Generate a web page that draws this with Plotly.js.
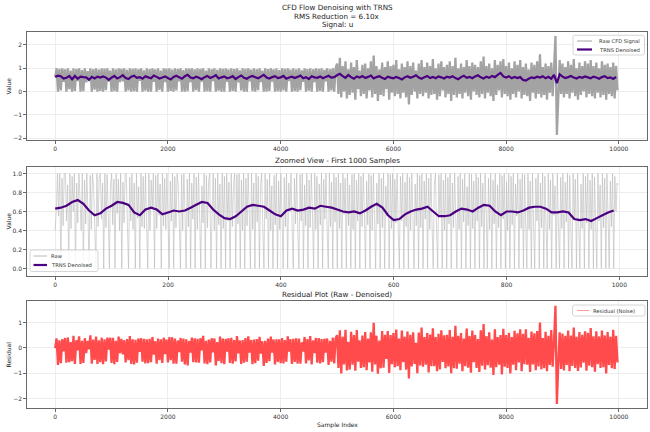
<!DOCTYPE html>
<html>
<head>
<meta charset="utf-8">
<script src="https://cdn.plot.ly/plotly-3.0.1.min.js"></script>
<style>html,body{margin:0;padding:0;background:#fff;}#chart{width:650px;height:432px;}</style>
</head>
<body>
<div id="chart"></div>
<script>
// ---- Data ----
// Raw CFD signal, full run (one reading every 25 samples, 0..9975)
const rawFull = [
0.62,1.0,0.0,0.98,0.05,1.0,0.42,0.95,0.0,1.0,0.1,0.9,0.0,1.0,0.03,0.97,0.45,1.0,0.0,0.92,
0.02,1.0,0.4,0.88,0.45,1.0,0.0,0.96,0.08,1.0,0.0,0.94,0.03,1.0,0.0,0.99,0.06,1.0,0.43,0.9,
0.0,1.0,0.02,0.95,0.0,1.0,0.41,0.97,0.44,1.0,0.0,0.93,0.05,1.0,0.0,0.98,0.02,1.0,0.0,0.96,
0.46,1.0,0.0,0.91,0.04,1.0,0.0,0.97,0.0,1.0,0.42,0.95,0.0,1.0,0.07,0.9,0.0,1.0,0.4,0.98,
0.0,1.0,0.03,0.94,0.0,1.0,0.05,0.97,0.44,1.0,0.0,0.92,0.0,1.0,0.02,0.99,0.41,1.0,0.0,0.95,
0.06,1.0,0.0,0.97,0.43,1.0,0.0,0.9,0.02,1.0,0.0,0.96,0.45,1.0,0.0,0.93,0.04,1.0,0.0,0.98,
0.0,1.0,0.42,0.95,0.0,1.0,0.03,0.97,0.0,1.0,0.4,0.91,0.05,1.0,0.0,0.98,0.0,1.0,0.44,0.94,
0.02,1.0,0.0,0.96,0.06,1.0,0.41,0.9,0.0,1.0,0.0,0.97,0.03,1.0,0.43,0.95,0.0,1.0,0.02,0.92,
0.0,1.0,0.05,0.98,0.0,1.0,0.45,0.94,0.0,1.0,0.02,0.96,0.0,1.0,0.06,0.91,0.42,1.0,0.0,0.97,
0.04,1.0,0.0,0.95,0.4,1.0,0.0,0.98,0.03,1.0,0.0,0.93,0.44,1.0,0.0,0.96,0.05,1.0,0.0,0.99,
1.2,-0.1,1.45,-0.25,1.1,0.0,1.3,-0.3,0.95,-0.15,1.25,-0.05,1.05,-0.35,1.35,0.1,0.9,-0.2,1.15,-0.1,
1.2,-0.3,1.0,0.05,1.3,-0.25,1.55,-0.1,1.1,-0.4,0.95,-0.15,1.25,-0.2,1.05,0.1,1.3,-0.35,1.1,-0.05,
1.15,-0.2,1.35,-0.1,0.95,-0.3,1.2,-0.05,1.05,-0.25,1.3,-0.55,1.1,-0.15,1.25,0.0,0.9,-0.3,1.2,-0.1,
1.35,-0.2,1.05,-0.05,1.25,-0.3,1.1,-0.15,1.4,-0.1,1.0,-0.35,1.2,-0.2,1.3,0.05,1.05,-0.25,1.15,-0.1,
1.3,-0.4,1.1,-0.15,1.45,-0.25,1.0,-0.1,1.2,-0.3,1.05,-0.05,1.35,-0.2,1.1,-0.35,1.25,0.0,1.15,-0.15,
1.05,-0.25,1.3,-0.1,1.5,-0.3,1.1,-0.05,1.2,-0.2,1.0,-0.4,1.35,-0.15,1.15,0.05,1.3,-0.25,1.4,-0.1,
1.1,-0.2,1.25,-0.35,1.0,-0.1,1.3,-0.25,1.15,0.0,1.35,-0.3,1.05,-0.15,1.2,-0.2,0.95,-0.4,1.25,-0.05,
1.15,-0.3,1.3,-0.1,1.6,-0.25,1.05,-0.15,1.2,-0.35,1.1,-0.05,1.25,-0.2,1.0,2.38,-1.86,-0.3,1.35,-0.1,
1.2,-0.25,1.05,-0.1,1.3,-0.3,1.15,-0.05,1.4,-0.2,1.0,-0.35,1.25,-0.15,1.1,0.0,1.3,-0.25,1.2,-0.1,
1.35,-0.2,1.1,-0.3,1.25,-0.05,1.0,-0.25,1.3,-0.15,1.15,-0.35,1.2,-0.1,1.05,-0.2,1.25,-0.3,1.1,0.05
];
const RAW_FULL_STEP = 25;

// TRNS denoised signal, full run (one reading every 50 samples, 0..9950)
const denFull = [
0.63,0.68,0.66,0.56,0.59,0.67,0.53,0.67,0.55,0.64,0.62,0.61,0.51,0.63,0.56,0.64,0.60,0.65,0.60,0.50,
0.60,0.67,0.56,0.62,0.70,0.58,0.54,0.64,0.68,0.59,0.62,0.55,0.66,0.61,0.57,0.69,0.63,0.56,0.60,0.65,
0.58,0.52,0.63,0.68,0.61,0.55,0.66,0.72,0.60,0.57,0.64,0.59,0.53,0.62,0.67,0.58,0.63,0.70,0.56,0.61,
0.65,0.57,0.60,0.66,0.54,0.62,0.69,0.59,0.55,0.63,0.67,0.61,0.57,0.64,0.72,0.60,0.56,0.62,0.66,0.58,
0.61,0.67,0.55,0.60,0.64,0.58,0.63,0.69,0.57,0.62,0.54,0.66,0.61,0.59,0.65,0.57,0.63,0.68,0.60,0.62,
0.70,0.76,0.66,0.59,0.71,0.62,0.55,0.65,0.60,0.67,0.58,0.63,0.69,0.56,0.62,0.66,0.59,0.54,0.64,0.60,
0.57,0.63,0.58,0.52,0.61,0.66,0.59,0.64,0.70,0.60,0.55,0.62,0.67,0.58,0.63,0.57,0.65,0.61,0.56,0.64,
0.60,0.66,0.58,0.53,0.62,0.68,0.59,0.63,0.57,0.65,0.70,0.61,0.56,0.64,0.59,0.67,0.62,0.72,0.80,0.65,
0.60,0.66,0.57,0.63,0.58,0.62,0.50,0.47,0.55,0.61,0.58,0.64,0.60,0.66,0.57,0.63,0.55,0.72,0.36,0.74,
0.64,0.58,0.62,0.67,0.60,0.56,0.63,0.59,0.65,0.61,0.57,0.64,0.60,0.55,0.62,0.66,0.58,0.61,0.54,0.63
];
const DEN_FULL_STEP = 50;

// First 1000 samples, raw (one reading every 2 samples)
const rawZoom = [
0.4,0.62,1.0,0.55,1.0,0.0,0.95,0.45,1.0,1.0,0.5,0.88,0.0,1.0,0.42,0.97,0.6,1.0,0.0,0.9,0.48,1.0,0.73,0.4,1.0,
0.0,0.93,0.47,1.0,0.6,0.0,0.98,0.41,1.0,0.85,0.45,0.0,1.0,0.44,0.96,1.0,0.52,0.9,0.0,1.0,0.43,0.99,0.58,0.0,0.87,
1.0,0.46,0.94,0.0,1.0,0.58,0.94,0.4,1.0,0.0,0.91,0.48,1.0,1.0,0.45,0.0,0.96,0.5,1.0,0.41,0.9,0.0,1.0,0.53,0.86,
0.0,1.0,0.44,0.97,0.42,1.0,0.47,0.0,1.0,0.4,0.93,0.62,1.0,0.0,0.98,0.42,1.0,0.56,0.89,0.0,1.0,0.45,0.95,0.41,1.0,
0.48,0.0,0.92,0.5,1.0,0.0,0.97,0.43,1.0,0.88,0.46,0.0,0.99,0.4,1.0,0.6,0.0,0.94,0.44,1.0,0.0,0.9,0.52,1.0,0.0,
0.96,0.41,1.0,0.55,0.0,0.87,0.48,1.0,0.0,0.98,0.43,0.92,1.0,0.0,0.55,1.0,0.4,0.95,0.0,1.0,0.46,0.89,0.0,1.0,0.42,
0.97,0.0,1.0,0.5,0.91,0.0,1.0,0.44,0.86,1.0,0.0,0.99,0.47,1.0,0.0,0.93,0.4,1.0,0.0,0.95,0.45,1.0,0.58,0.0,1.0,
0.41,0.9,0.0,1.0,0.49,0.97,0.0,0.88,1.0,0.43,0.0,1.0,0.52,0.94,0.0,1.0,0.4,0.87,0.0,0.98,0.46,1.0,0.0,0.92,0.41,
1.0,0.55,0.0,0.96,0.44,1.0,0.0,0.9,0.6,1.0,0.42,0.0,0.95,0.47,1.0,0.4,0.0,0.99,0.5,1.0,0.0,0.88,0.45,1.0,0.0,
0.93,0.43,1.0,0.58,0.0,1.0,0.41,0.97,0.0,0.89,0.46,1.0,0.0,0.94,0.52,1.0,0.4,0.0,1.0,0.44,0.91,0.0,1.0,0.49,0.96,
0.0,1.0,0.42,0.9,0.0,1.0,0.57,0.95,0.0,1.0,0.45,0.88,0.0,0.99,0.41,1.0,0.0,0.93,0.5,1.0,0.0,0.97,0.44,1.0,0.6,
0.0,0.92,0.46,1.0,0.0,0.98,0.4,1.0,0.53,0.0,0.9,0.47,1.0,0.0,0.95,0.43,1.0,0.0,0.87,0.55,1.0,0.0,0.99,0.42,1.0,
0.0,0.94,0.48,1.0,0.41,0.0,0.97,0.5,1.0,0.0,0.91,0.44,1.0,0.0,0.96,0.4,1.0,0.59,0.0,0.89,0.45,1.0,0.0,0.98,0.43,
1.0,0.0,0.92,0.52,1.0,0.0,0.95,0.41,1.0,0.46,0.0,0.88,1.0,0.42,0.0,0.99,0.56,1.0,0.0,0.93,0.4,1.0,0.0,0.96,0.47,
1.0,0.0,0.9,0.43,1.0,0.54,0.0,0.97,0.41,1.0,0.0,0.94,0.49,1.0,0.0,0.86,0.45,1.0,0.0,0.99,0.42,0.92,0.0,1.0,0.5,
0.96,0.0,1.0,0.44,0.9,0.0,1.0,0.58,0.0,0.95,0.41,1.0,0.0,0.93,0.47,1.0,0.0,0.88,0.43,1.0,0.0,0.98,0.52,1.0,0.0,
0.91,0.4,1.0,0.0,0.97,0.46,1.0,0.0,0.89,0.55,1.0,0.0,0.94,0.42,1.0,0.0,0.99,0.48,0.0,1.0,0.41,0.92,0.0,1.0,0.45,
0.0,0.95,0.5,1.0,0.0,0.9,0.43,1.0,0.0,0.97,0.47,0.0,1.0,0.41,0.93,0.0,1.0,0.56,0.87,0.0,1.0,0.44,0.0,0.96,0.42,
1.0,0.0,0.91,0.49,1.0,0.0,0.98,0.4,0.0,1.0,0.53,0.94,0.0,1.0,0.45,0.0,0.89,0.42,1.0,0.0,0.97,0.48,1.0,0.0,0.93,
0.41,1.0,0.0,0.96,0.46,0.0,1.0,0.5,0.88,0.0,1.0,0.43,0.95,0.0,1.0,0.55,0.0,0.92,0.44,1.0,0.0,0.97,0.6,0.9,0.88
];
const RAW_ZOOM_STEP = 2;

// First 1000 samples, denoised (one reading every 10 samples)
const denZoom = [
0.63,0.64,0.66,0.70,0.72,0.68,0.61,0.56,0.58,0.63,
0.66,0.70,0.69,0.67,0.59,0.56,0.62,0.64,0.62,0.57,
0.59,0.61,0.60,0.61,0.64,0.67,0.70,0.69,0.62,0.57,
0.53,0.52,0.55,0.60,0.65,0.67,0.66,0.65,0.61,0.57,
0.55,0.61,0.63,0.61,0.62,0.64,0.63,0.66,0.65,0.64,
0.62,0.60,0.59,0.60,0.58,0.61,0.65,0.68,0.64,0.56,
0.51,0.52,0.57,0.60,0.62,0.63,0.65,0.60,0.55,0.55,
0.56,0.60,0.63,0.62,0.60,0.64,0.67,0.66,0.60,0.56,
0.60,0.60,0.59,0.61,0.64,0.65,0.65,0.63,0.59,0.59,
0.60,0.59,0.52,0.51,0.52,0.50,0.53,0.56,0.59,0.61
];
const DEN_ZOOM_STEP = 10;

// Tick values and texts
const xTicksFull = [0, 2000, 4000, 6000, 8000, 10000];
const xTicksZoom = [0, 200, 400, 600, 800, 1000];
const yTicksValue = [-2, -1, 0, 1, 2];
const yTicksZoom = [0.0, 0.2, 0.4, 0.6, 0.8, 1.0];
const yTicksResid = [-2, -1, 0, 1];
const titleLines = ['CFD Flow Denoising with TRNS', 'RMS Reduction = 6.10x', 'Signal: u'];
const legendNames1 = ['Raw CFD Signal', 'TRNS Denoised'];
const legendNames2 = ['Raw', 'TRNS Denoised'];
const legendNames3 = ['Residual (Noise)'];

// ---- Build series ----
const idx = (arr, step) => arr.map((_, i) => i * step);
const xRawFull = idx(rawFull, RAW_FULL_STEP);
const xDenFull = idx(denFull, DEN_FULL_STEP);
const xRawZoom = idx(rawZoom, RAW_ZOOM_STEP);
const xDenZoom = idx(denZoom, DEN_ZOOM_STEP);
// Residual = Raw - Denoised (denoised reading nearest to each raw reading)
const residual = rawFull.map((v, i) => +(v - denFull[Math.floor(i * RAW_FULL_STEP / DEN_FULL_STEP)]).toFixed(3));

const FONT = 'DejaVu Sans';
const C_RAW = '#a3a3a3', C_RAWZ = '#b8b8b8', C_DEN = '#4B0082', C_RES = '#ff4b4b', C_RES_LEG = '#ff9d9d';

const traces = [
  {x: xRawFull, y: rawFull, type: 'scatter', mode: 'lines', name: legendNames1[0],
   line: {color: C_RAW, width: 2.3, simplify: false}, xaxis: 'x', yaxis: 'y'},
  {x: xDenFull, y: denFull, type: 'scatter', mode: 'lines', name: legendNames1[1],
   line: {color: C_DEN, width: 2.2, simplify: false}, xaxis: 'x', yaxis: 'y'},
  {x: xRawZoom, y: rawZoom, type: 'scatter', mode: 'lines', name: legendNames2[0],
   line: {color: C_RAWZ, width: 0.6, simplify: false}, xaxis: 'x2', yaxis: 'y2'},
  {x: xDenZoom, y: denZoom, type: 'scatter', mode: 'lines', name: legendNames2[1],
   line: {color: C_DEN, width: 2.2, simplify: false}, xaxis: 'x2', yaxis: 'y2'},
  {x: xRawFull, y: residual, type: 'scatter', mode: 'lines', name: legendNames3[0],
   line: {color: C_RES, width: 2.3, simplify: false}, xaxis: 'x3', yaxis: 'y3'}
];

const axBase = {
  showline: true, mirror: true, linecolor: '#444', linewidth: 0.8,
  ticks: 'outside', ticklen: 3, tickwidth: 0.8, tickcolor: '#444',
  showgrid: true, gridcolor: '#e8e8e8', gridwidth: 0.8, zeroline: false,
  tickfont: {family: FONT, size: 6, color: '#333'}
};
const H = 432, L = 27, R = 3, W = 650 - L - R;
const py = p => 1 - p / H;      // pixel row -> paper y
const px = p => (p - L) / W;    // pixel column -> paper x

const ann = (text, x, y, size, extra) => Object.assign({
  text: text, xref: 'paper', yref: 'paper', x: x, y: y, showarrow: false,
  xanchor: 'center', yanchor: 'middle', borderpad: 0,
  font: {family: FONT, size: size, color: '#222'}
}, extra || {});

// Legend boxes (matplotlib style), drawn as shapes + text
const shapes = [];
const annotations = [];
function legendBox(x0, y0, x1, y1, items) {
  const r = 2;
  const P = (x, y) => px(x) + ',' + py(y);
  shapes.push({type: 'path', xref: 'paper', yref: 'paper',
    path: 'M' + P(x0 + r, y0) + ' L' + P(x1 - r, y0) + ' Q' + P(x1, y0) + ' ' + P(x1, y0 + r) +
          ' L' + P(x1, y1 - r) + ' Q' + P(x1, y1) + ' ' + P(x1 - r, y1) +
          ' L' + P(x0 + r, y1) + ' Q' + P(x0, y1) + ' ' + P(x0, y1 - r) +
          ' L' + P(x0, y0 + r) + ' Q' + P(x0, y0) + ' ' + P(x0 + r, y0) + ' Z',
    fillcolor: 'rgba(255,255,255,0.85)', line: {color: '#cccccc', width: 0.8}});
  items.forEach(it => {
    shapes.push({type: 'line', xref: 'paper', yref: 'paper',
      x0: px(it.lx0), x1: px(it.lx1), y0: py(it.y), y1: py(it.y),
      line: {color: it.color, width: it.width}});
    annotations.push(ann(it.text, px(it.tx), py(it.y), 5.2, {xanchor: 'left', font: {family: FONT, size: 5.2, color: '#333'}}));
  });
}
legendBox(573, 35.3, 644.5, 55, [
  {text: legendNames1[0], y: 41, lx0: 577, lx1: 592, tx: 597.5, color: C_RAW, width: 1},
  {text: legendNames1[1], y: 49.5, lx0: 577, lx1: 592, tx: 597.5, color: C_DEN, width: 2.2}
]);
legendBox(30, 250, 98, 271.5, [
  {text: legendNames2[0], y: 256, lx0: 33.5, lx1: 47, tx: 49.5, color: C_RAWZ, width: 1},
  {text: legendNames2[1], y: 265, lx0: 33.5, lx1: 47, tx: 49.5, color: C_DEN, width: 2.2}
]);
legendBox(572.5, 305, 645, 316, [
  {text: legendNames3[0], y: 310.5, lx0: 577, lx1: 589, tx: 592, color: C_RES_LEG, width: 1}
]);

// Titles and axis labels
annotations.push(
  ann(titleLines[0], 0.5, py(7.3), 7.2),
  ann(titleLines[1], 0.5, py(16.2), 7.2),
  ann(titleLines[2], 0.5, py(25), 7.2),
  ann('Zoomed View - First 1000 Samples', 0.5, py(160.5), 7.2),
  ann('Residual Plot (Raw - Denoised)', 0.5, py(294.5), 7.2),
  ann('Sample Index', 0.5, py(425), 6),
  ann('Value', px(7.5), py(86), 6, {textangle: -90}),
  ann('Value', px(7.5), py(221), 6, {textangle: -90}),
  ann('Residual', px(7.5), py(355), 6, {textangle: -90})
);

const layout = {
  width: 650, height: 432,
  margin: {l: L, r: R, t: 0, b: 0},
  paper_bgcolor: '#fff', plot_bgcolor: '#fff',
  font: {family: FONT, color: '#333'},
  showlegend: false,
  xaxis: Object.assign({}, axBase, {domain: [0, 1], anchor: 'y', range: [-500, 10499], tickvals: xTicksFull, tickformat: 'd'}),
  yaxis: Object.assign({}, axBase, {domain: [py(140), py(31.7)], anchor: 'x', range: [-2.08, 2.57], tickvals: yTicksValue}),
  xaxis2: Object.assign({}, axBase, {domain: [0, 1], anchor: 'y2', range: [-50, 1049], tickvals: xTicksZoom, tickformat: 'd'}),
  yaxis2: Object.assign({}, axBase, {domain: [py(275.7), py(166.7)], anchor: 'x2', range: [-0.077, 1.072], tickvals: yTicksZoom, tickformat: '.1f'}),
  xaxis3: Object.assign({}, axBase, {domain: [0, 1], anchor: 'y3', range: [-500, 10499], tickvals: xTicksFull, tickformat: 'd'}),
  yaxis3: Object.assign({}, axBase, {domain: [py(408.3), py(301)], anchor: 'x3', range: [-2.39, 1.85], tickvals: yTicksResid}),
  shapes: shapes,
  annotations: annotations
};

Plotly.newPlot('chart', traces, layout, {displayModeBar: false, staticPlot: true});
</script>
</body>
</html>
